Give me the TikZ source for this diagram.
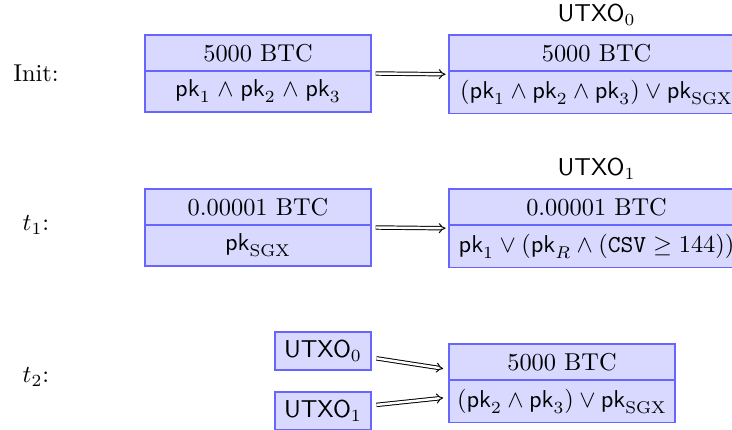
\documentclass[tikz,border=0pt]{standalone}
\usepackage{amsmath}
\usepackage{amssymb}
\usetikzlibrary{shapes.multipart,arrows.meta}
\tikzset{
	every utxo/.style={
		rectangle split,
		rectangle split parts=2,
		draw=blue!60,
		fill=blue!15,
		line width=0.8pt
	},
	utxo fixed/.style={
		text width=86pt,
		align=center
	},
	utxo wide/.style={
		inner xsep=1pt,
		minimum width=121pt
	},
	utxo ref/.style={
		draw=blue!60,
		fill=blue!15,
		line width=0.8pt,
		minimum width=39pt,
		font=\sffamily
	},
	spend/.style={
		double,
		double distance=1pt,
		->
	},
}
\newcommand{\pk}{\mathsf{pk}}

\begin{document}
\begin{tikzpicture}[x=0.41pt, y=-0.41pt, >={Implies}]
\useasboundingbox (0,0) rectangle (732,430);

\foreach \l/\y [count=\i] in {Init:/73, $t_1$:/225, $t_2$:/377}
	\node (row-\i) at (36,\y) {\l};

% Init
\node [every utxo, utxo fixed, anchor=north] (in-1) at (258,34)
	{5000 BTC \nodepart{two} $\pk_1 \wedge \pk_2 \wedge \pk_3$};
\node [every utxo, utxo wide, anchor=north west] (out-1) at (448,34)
	{5000 BTC \nodepart{two} $(\pk_1 \wedge \pk_2 \wedge \pk_3) \vee \pk_{\mathrm{SGX}}$};

% t1
\node [every utxo, utxo fixed, anchor=north] (in-2) at (258,188)
	{0.00001 BTC \nodepart{two} $\pk_{\mathrm{SGX}}$};
\node [every utxo, utxo wide, anchor=north west] (out-2) at (448,188)
	{0.00001 BTC \nodepart{two} $\pk_1 \vee (\pk_R \wedge (\texttt{CSV} \geq 144))$};

\foreach \i in {1,2} {
	\node [above, font=\sffamily] at (out-\i.north) {UTXO$_{\the\numexpr\i-1\relax}$};
	\draw [spend] ([xshift=1.5pt]in-\i.east) -- ([xshift=-1pt]out-\i.west);
}

% t2
\node [utxo ref] (ref-0) at (323,351) {UTXO$_0$};
\node [utxo ref] (ref-1) at (323,411) {UTXO$_1$};
\node [every utxo, utxo fixed, anchor=north] (out-3) at (562,343)
	{5000 BTC \nodepart{two} $(\pk_2 \wedge \pk_3) \vee \pk_{\mathrm{SGX}}$};

\draw [spend] ([xshift=2pt, yshift=-3pt]ref-0.east) -- ([xshift=-2pt, yshift=6pt]out-3.west);
\draw [spend] ([xshift=2pt, yshift=2.5pt]ref-1.east) -- ([xshift=-2pt, yshift=-6pt]out-3.west);

\end{tikzpicture}
\end{document}
